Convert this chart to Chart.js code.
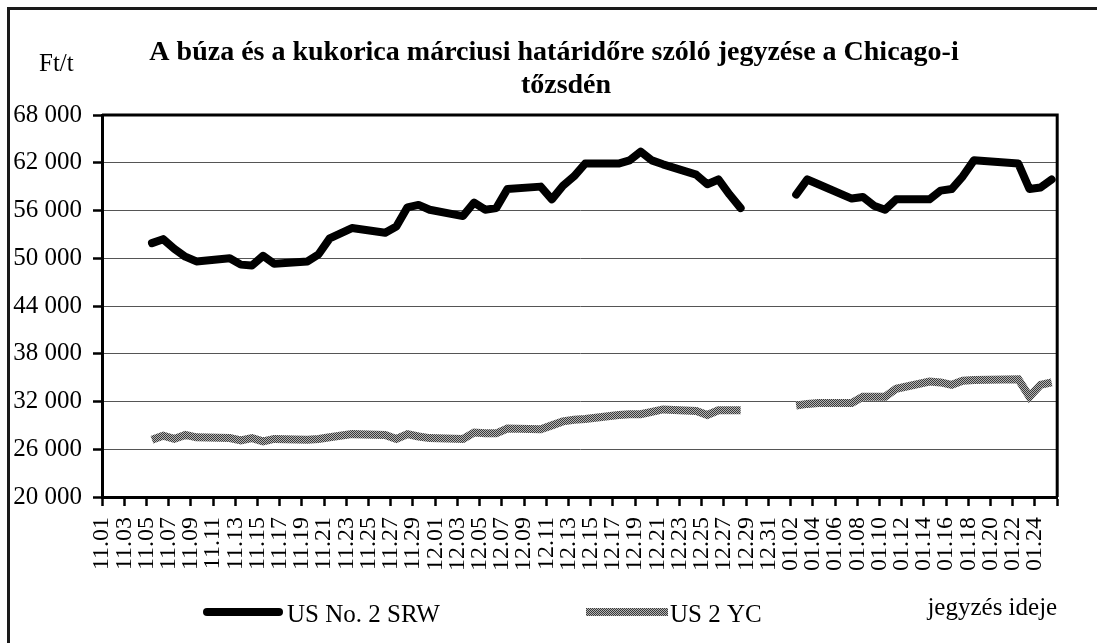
<!DOCTYPE html>
<html>
<head>
<meta charset="utf-8">
<script src="https://cdn.jsdelivr.net/npm/chart.js@4/dist/chart.umd.min.js"></script>
<style>
  body { margin: 0; background: #fff; }
</style>
</head>
<body>
<canvas id="chart_elem" width="1097" height="643"></canvas>
<script>

// axis labels, every second day from 11.01
const tickLabels = [
  '11.01', '11.03', '11.05', '11.07', '11.09', '11.11', '11.13', '11.15',
  '11.17', '11.19', '11.21', '11.23', '11.25', '11.27', '11.29',
  '12.01', '12.03', '12.05', '12.07', '12.09', '12.11', '12.13', '12.15',
  '12.17', '12.19', '12.21', '12.23', '12.25', '12.27', '12.29', '12.31',
  '01.02', '01.04', '01.06', '01.08', '01.10', '01.12', '01.14', '01.16',
  '01.18', '01.20', '01.22', '01.24'
];

// quote days (12.31 left empty -> gap in the lines)
const quoteDates = [
  '11.05', '11.06', '11.07', '11.08', '11.09', '11.12', '11.13', '11.14', '11.15', '11.16',
  '11.19', '11.20', '11.21', '11.23', '11.26', '11.27', '11.28', '11.29', '11.30',
  '12.03', '12.04', '12.05', '12.06', '12.07', '12.10', '12.11', '12.12', '12.13', '12.14',
  '12.17', '12.18', '12.19', '12.20', '12.21', '12.24', '12.25', '12.26', '12.27', '12.28',
  '12.31',
  '01.02', '01.03', '01.04', '01.07', '01.08', '01.09', '01.10', '01.11',
  '01.14', '01.15', '01.16', '01.17', '01.18', '01.22', '01.23', '01.24', '01.25'
];

const wheatPrices = [
  51900, 52400, 51200, 50200, 49600, 50000, 49200, 49100, 50300, 49300,
  49600, 50500, 52500, 53800, 53200, 54000, 56400, 56700, 56100,
  55300, 57000, 56100, 56300, 58700, 59000, 57400, 59100, 60300, 61900,
  61900, 62300, 63400, 62300, 61800, 60500, 59300, 59900, 58000, 56300,
  null,
  58000, 59900, 59300, 57500, 57700, 56600, 56100, 57400,
  57400, 58500, 58700, 60300, 62300, 61900, 58700, 58900, 59900
];

const cornPrices = [
  27200, 27700, 27300, 27800, 27500, 27400, 27100, 27400, 27000, 27300,
  27200, 27300, 27500, 27900, 27800, 27300, 27900, 27600, 27400,
  27300, 28100, 28000, 28000, 28600, 28500, 29000, 29500, 29700, 29800,
  30300, 30400, 30400, 30700, 31000, 30800, 30300, 30900, 30900, 30900,
  null,
  31500, 31700, 31800, 31800, 32600, 32600, 32600, 33600,
  34500, 34400, 34100, 34600, 34700, 34800, 32600, 34100, 34400
];

const seriesNames = ['US No. 2 SRW', 'US 2 YC'];

const titleLines = ['A búza és a kukorica márciusi határidőre szóló jegyzése a Chicago-i', 'tőzsdén'];


const serif = '"Liberation Serif", "Times New Roman", serif';

// day number counted from 11.01
const monthStart = { '11': 0, '12': 30, '01': 61 };
const dayIndex = (d) => monthStart[d.slice(0, 2)] + parseInt(d.slice(3), 10) - 1;

// each quote sits in the middle of its day
const toPoints = (values) => quoteDates.map((d, i) => ({ x: dayIndex(d) + 0.5, y: values[i] }));

const makeChecker = () => {
  const c = document.createElement('canvas');
  c.width = 2;
  c.height = 2;
  const g = c.getContext('2d');
  g.fillStyle = '#b4b4b4';
  g.fillRect(0, 0, 2, 2);
  g.fillStyle = '#3a3a3a';
  g.fillRect(0, 0, 1, 1);
  g.fillRect(1, 1, 1, 1);
  return g.createPattern(c, 'repeat');
};

const decorations = {
  id: 'decorations',
  afterDraw(chart) {
    const { ctx, chartArea: a } = chart;
    ctx.save();

    // outer frame (right/bottom edges are outside the picture)
    ctx.strokeStyle = '#1a1a1a';
    ctx.lineWidth = 3;
    ctx.strokeRect(8.5, 8.5, 1200, 1000);

    // top + right edge of the plot area
    ctx.strokeStyle = '#000';
    ctx.beginPath();
    ctx.moveTo(a.left, a.top);
    ctx.lineTo(a.right, a.top);
    ctx.lineTo(a.right, a.bottom);
    ctx.stroke();

    ctx.fillStyle = '#000';
    ctx.textBaseline = 'alphabetic';

    // title
    ctx.font = 'bold 28px ' + serif;
    ctx.textAlign = 'center';
    ctx.fillText(titleLines[0], 554, 60);
    ctx.fillText(titleLines[1], 566, 93);

    ctx.textAlign = 'left';
    ctx.font = '25px ' + serif;
    ctx.fillText('Ft/t', 39, 71);

    // legend
    const ly = 612;
    [[207, 279], [586, 668]].forEach(([x0, x1], i) => {
      const ds = chart.data.datasets[i];
      ctx.strokeStyle = ds.borderColor;
      ctx.lineWidth = ds.borderWidth;
      ctx.lineCap = ds.borderCapStyle;
      ctx.beginPath();
      ctx.moveTo(x0, ly);
      ctx.lineTo(x1, ly);
      ctx.stroke();
      ctx.fillText(ds.label, x1 + (i === 0 ? 8 : 2), ly + 10);
    });

    ctx.restore();
  }
};

const canvas = document.getElementById('chart_elem');
const ctx = canvas.getContext('2d');

const data = {
  datasets: [{
    label: seriesNames[0],
    data: toPoints(wheatPrices),
    borderColor: '#000',
    borderWidth: 8,
    borderCapStyle: 'round',
    borderJoinStyle: 'round',
    pointRadius: 0,
    tension: 0,
    spanGaps: false
  }, {
    label: seriesNames[1],
    data: toPoints(cornPrices),
    borderColor: makeChecker(),
    borderWidth: 8,
    borderCapStyle: 'butt',
    borderJoinStyle: 'miter',
    pointRadius: 0,
    tension: 0,
    spanGaps: false
  }]
};

const config = {
  type: 'line',
  data,
  options: {
    responsive: false,
    animation: false,
    layout: {
      padding: { left: 8, right: 33, top: 115, bottom: 0 }
    },
    plugins: {
      legend: { display: false },
      tooltip: { enabled: false },
      title: { display: false }
    },
    scales: {
      x: {
        type: 'linear',
        min: 0,
        max: 86,
        afterFit: (scale) => { scale.height = 146; },
        border: { color: '#000', width: 3 },
        grid: {
          drawOnChartArea: false,
          tickLength: 9,
          tickColor: '#000',
          tickWidth: 2.5
        },
        ticks: {
          stepSize: 2,
          autoSkip: false,
          minRotation: 90,
          maxRotation: 90,
          padding: 11,
          color: '#000',
          font: { family: serif, size: 24 },
          callback: (v) => tickLabels[v / 2] || ''
        },
        title: {
          display: true,
          text: 'jegyzés ideje',
          align: 'end',
          color: '#000',
          font: { family: serif, size: 25, lineHeight: 1.2 },
          padding: { top: 0, bottom: 20 }
        }
      },
      y: {
        min: 20000,
        max: 68000,
        afterFit: (scale) => { scale.width = 94; },
        border: { color: '#000', width: 3 },
        grid: {
          color: '#555',
          lineWidth: 1,
          tickLength: 9,
          tickColor: '#000',
          tickWidth: 2.5
        },
        ticks: {
          stepSize: 6000,
          padding: 11,
          color: '#000',
          font: { family: serif, size: 25 },
          callback: (v) => String(v).replace(/\B(?=(\d{3})+(?!\d))/g, ' ')
        }
      }
    }
  },
  plugins: [decorations]
};

const chart = new Chart(ctx, config);

</script>
</body>
</html>
